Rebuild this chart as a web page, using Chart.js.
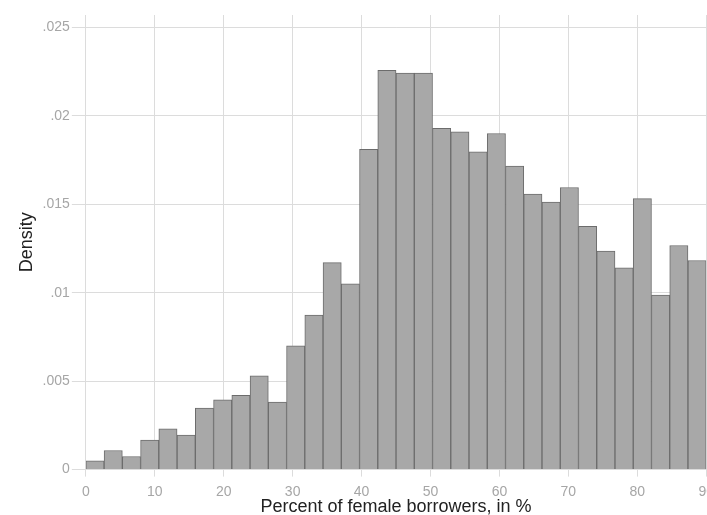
<!DOCTYPE html>
<html>
<head>
<meta charset="utf-8">
<script src="https://cdn.jsdelivr.net/npm/chart.js@4"></script>
<style>
  html, body { margin: 0; padding: 0; background: #fff; overflow: hidden; }
  #wrap { width: 721px; height: 518px; }
</style>
</head>
<body>
<div id="wrap"><canvas id="myChart"></canvas></div>
<script>
// histogram bins, width = 90 / 34
const binWidth = 90 / 34
const density = [
  0.0005, 0.00108, 0.00074, 0.00167, 0.00231, 0.00195, 0.00348, 0.00394,
  0.0042, 0.0053, 0.00382, 0.0070, 0.00873, 0.0117, 0.0105, 0.0181,
  0.02257, 0.02242, 0.02242, 0.0193, 0.0191, 0.01797, 0.0190, 0.01716,
  0.01557, 0.01513, 0.01595, 0.01375, 0.01235, 0.0114, 0.01532, 0.00987,
  0.01267, 0.01182
]
const xTicks = [0, 10, 20, 30, 40, 50, 60, 70, 80, 90]
const yTicks = [0, 0.005, 0.01, 0.015, 0.02, 0.025]
const yTickLabels = ['0', '.005', '.01', '.015', '.02', '.025']

;(() => {
  'use strict'

  const ctx = document.getElementById('myChart')
  const gridColor = '#dcdcdc'

  new Chart(ctx, {
    type: 'bar',
    data: {
      datasets: [{
        data: density.map((d, i) => ({ x: (i + 0.5) * binWidth, y: d })),
        backgroundColor: '#a8a8a8',
        borderColor: '#6c6c6c',
        borderWidth: 1,
        barPercentage: 1,
        categoryPercentage: 1
      }]
    },
    options: {
      responsive: true,
      maintainAspectRatio: false,
      animation: false,
      layout: { padding: { top: 15, left: 11, right: 0, bottom: 0 } },
      plugins: {
        legend: { display: false },
        tooltip: { enabled: false }
      },
      scales: {
        x: {
          type: 'linear',
          min: 0,
          max: 90,
          offset: false,
          afterBuildTicks: (scale) => { scale.ticks = xTicks.map(v => ({ value: v })) },
          grid: { color: gridColor, offset: false, tickLength: 7, tickColor: gridColor },
          border: { display: false },
          ticks: { color: '#a6a6a6', font: { family: 'Liberation Sans', size: 14 }, padding: 7, maxRotation: 0 },
          title: {
            display: true,
            text: 'Percent of female borrowers, in %',
            color: '#222',
            font: { family: 'Liberation Sans', size: 18 },
            padding: { top: -11, bottom: 0 }
          }
        },
        y: {
          min: 0,
          max: 0.0257,
          afterBuildTicks: (scale) => { scale.ticks = yTicks.map(v => ({ value: v })) },
          grid: { color: gridColor, tickLength: 14, tickColor: gridColor },
          border: { display: false },
          ticks: {
            color: '#a6a6a6',
            font: { family: 'Liberation Sans', size: 14 },
            padding: 2,
            callback: (v) => yTickLabels[yTicks.indexOf(v)]
          },
          title: {
            display: true,
            text: 'Density',
            color: '#222',
            font: { family: 'Liberation Sans', size: 18 },
            padding: { top: 5, bottom: 3 }
          }
        }
      }
    }
  })
})()
</script>
</body>
</html>
